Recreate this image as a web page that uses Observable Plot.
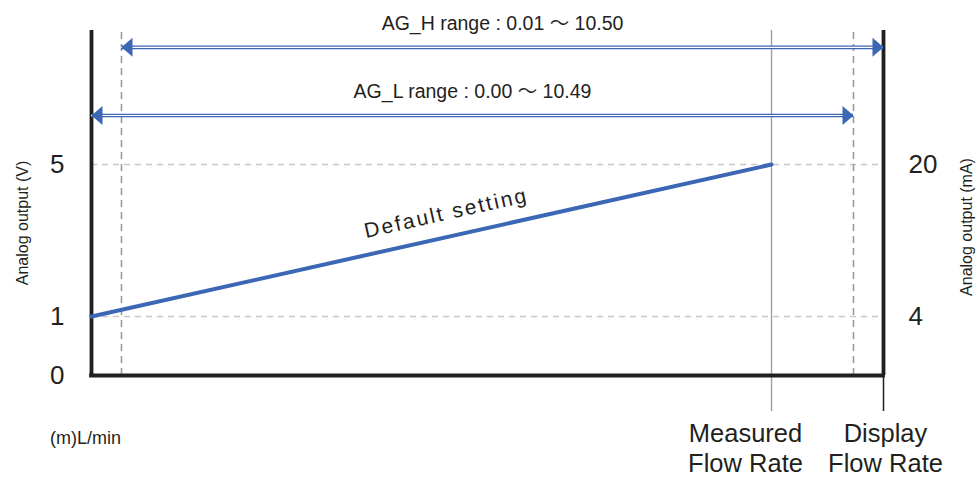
<!DOCTYPE html>
<html>
<head>
<meta charset="utf-8">
<script src="https://cdn.jsdelivr.net/npm/d3@7"></script>
<script src="https://cdn.jsdelivr.net/npm/@observablehq/plot@0.6"></script>
<style>
  html, body { margin: 0; padding: 0; background: #fff; }
  #chart svg { display: block; font-family: "Liberation Sans", Arial, "Noto Sans CJK JP", sans-serif; }
</style>
</head>
<body>
<div id="chart"></div>
<script>
// ---- data (schematic flow-rate axis) ----
const xKeys = [0, 0.01, 10, 10.49, 10.5];           // 0, AG_H low, measured FS, AG_L high, display max
const yKeys = [0, 1, 5, 8.5];                         // analog output (V), top of frame = 8.5
const vTicks = [0, 1, 5];
const vTickLabels = ["0", "1", "5"];
const mATicks = [1, 5];
const mATickLabels = ["4", "20"];
const gridV = [1, 5];
const rangeDashes = [0.01, 10.49];
const measuredFS = 10;
const displayMax = 10.5;
const lineFlow = [0, 10];
const lineVolt = [1, 5];
const rangeNames = ["AG_H range : 0.01 〜 10.50", "AG_L range : 0.00 〜 10.49"];
const rangeFrom = [0.01, 0];
const rangeTo = [10.5, 10.49];
const rangeRow = [8.06, 6.28];
const defaultLabel = {text: "Default setting", flow: 5.0, volt: 3.72};

const blue = "#3b67b5";
const ink = "#231f20";

const xRange = [91, 121, 771, 853, 883];
const yRange = [375, 316, 164, 30];
const xs = d3.scaleLinear(xKeys, xRange);

const ranges = rangeNames.map((name, i) => ({
  name, from: rangeFrom[i], to: rangeTo[i], row: rangeRow[i],
  mid: xs.invert((xs(rangeFrom[i]) + xs(rangeTo[i])) / 2)
}));
const defaultLine = lineFlow.map((f, i) => ({flow: f, volt: lineVolt[i]}));
const yTop = yKeys[yKeys.length - 1];

const headRight = {draw(ctx) { ctx.moveTo(0, 0); ctx.lineTo(-11, -9.5); ctx.lineTo(-11, 9.5); ctx.closePath(); }};
const headLeft = {draw(ctx) { ctx.moveTo(0, 0); ctx.lineTo(11, -9.5); ctx.lineTo(11, 9.5); ctx.closePath(); }};

const chart = Plot.plot({
  width: 977,
  height: 479,
  margin: 0,
  x: {type: "linear", domain: xKeys, range: xRange, axis: null},
  y: {type: "linear", domain: yKeys, range: yRange, axis: null},
  marks: [
    // horizontal dashed grid at 1 V and 5 V
    Plot.ruleY(gridV, {x1: 0, x2: displayMax, stroke: "#c8c8c8", strokeWidth: 1.4, strokeDasharray: "6,5"}),
    // vertical dashed range limits
    Plot.ruleX(rangeDashes, {y1: 0, y2: yTop, stroke: "#9a9a9a", strokeWidth: 1.6, strokeDasharray: "7,5"}),
    // measured flow rate full-scale line
    Plot.ruleX([measuredFS], {stroke: "#a0a0a0", strokeWidth: 1.4, insetTop: 30, insetBottom: 68}),
    // display flow-rate tick below axis
    Plot.ruleX([displayMax], {stroke: ink, strokeWidth: 1.5, insetTop: 375, insetBottom: 68}),
    // frame lines
    Plot.ruleX([0, displayMax], {y1: 0, y2: yTop, stroke: ink, strokeWidth: 3.8}),
    Plot.ruleY([0], {x1: 0, x2: displayMax, stroke: ink, strokeWidth: 3.8, strokeLinecap: "square"}),
    // range arrows (double line)
    Plot.ruleY(ranges, {y: "row", x1: "from", x2: "to", stroke: blue, strokeWidth: 3.6}),
    Plot.ruleY(ranges, {y: "row", x1: "from", x2: "to", stroke: "#ffffff", strokeWidth: 1.1}),
    Plot.dot(ranges, {x: "to", y: "row", symbol: headRight, fill: blue, stroke: "none", r: 5}),
    Plot.dot(ranges, {x: "from", y: "row", symbol: headLeft, fill: blue, stroke: "none", r: 5}),
    Plot.text(ranges, {x: "mid", y: "row", text: "name", dy: -24, fontSize: 19.5, fill: ink}),
    // default setting line
    Plot.line(defaultLine, {x: "flow", y: "volt", stroke: blue, strokeWidth: 4}),
    Plot.text([defaultLabel], {x: "flow", y: "volt", text: "text", rotate: -12.6, fontSize: 21, fill: ink}),
    // tick labels
    Plot.text(vTicks, {x: 0, y: d => d, text: (d, i) => vTickLabels[i], textAnchor: "end", dx: -27, fontSize: 26, fill: ink}),
    Plot.text(mATicks, {x: displayMax, y: d => d, text: (d, i) => mATickLabels[i], textAnchor: "start", dx: 25, fontSize: 26, fill: ink}),
    // axis titles
    Plot.text(["Analog output (V)"], {frameAnchor: "left", textAnchor: "middle", rotate: -90, dx: 22, dy: -17, fontSize: 16, fill: ink}),
    Plot.text(["Analog output (mA)"], {frameAnchor: "right", textAnchor: "middle", rotate: -90, dx: -11, dy: -13, fontSize: 16, fill: ink}),
    // x labels
    Plot.text(["(m)L/min"], {x: 0, frameAnchor: "bottom", lineAnchor: "middle", textAnchor: "middle", dx: -6, dy: -41, fontSize: 18, fill: ink}),
    Plot.text(["Measured\nFlow Rate"], {x: measuredFS, frameAnchor: "bottom", lineAnchor: "middle", textAnchor: "middle", dx: -26, dy: -32, lineHeight: 1.17, fontSize: 25.5, fill: ink}),
    Plot.text(["Display\nFlow Rate"], {x: displayMax, frameAnchor: "bottom", lineAnchor: "middle", textAnchor: "middle", dx: 2, dy: -32, lineHeight: 1.17, fontSize: 25.5, fill: ink})
  ]
});

d3.select(chart).selectAll("text").filter(function() { return this.textContent === defaultLabel.text; })
  .attr("letter-spacing", "2.2px");

document.getElementById("chart").appendChild(chart);
</script>
</body>
</html>
